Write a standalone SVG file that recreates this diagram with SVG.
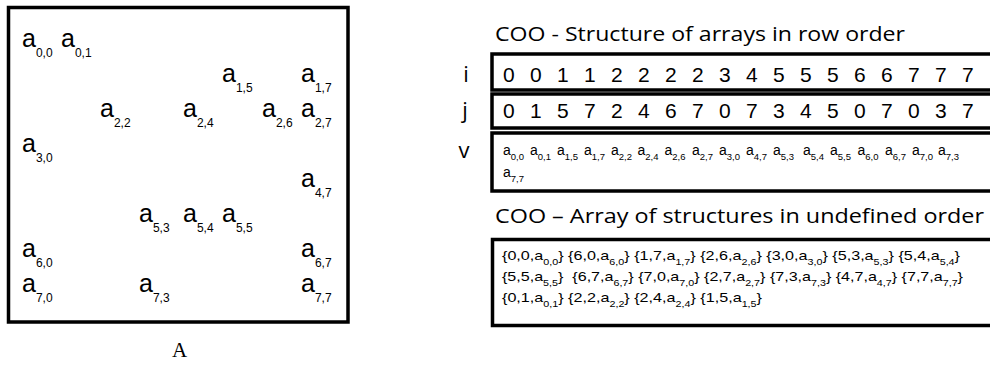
<svg xmlns="http://www.w3.org/2000/svg" width="990" height="365" viewBox="0 0 990 365">
<style>
.box{fill:#fff;stroke:#000;stroke-width:3.5}
.m{font-family:"Liberation Sans",Arial,sans-serif;font-size:25px;fill:#000}
.ms{font-size:12px}
.t{font-family:"Open Sans","DejaVu Sans",sans-serif;font-size:20px;fill:#000}
.lbl{font-family:"Open Sans","DejaVu Sans",sans-serif;font-size:22px;fill:#000}
.d{font-family:"Liberation Sans",Arial,sans-serif;font-size:21px;fill:#000}
.v{font-family:"Liberation Sans",Arial,sans-serif;font-size:14px;fill:#000}
.vs{font-size:9.5px}
.s{font-family:"Liberation Sans",Arial,sans-serif;font-size:13.5px;fill:#000}
.ss{font-size:9px}
.cap{font-family:"Liberation Serif","Times New Roman",serif;font-size:21px;fill:#000}
</style>
<rect width="990" height="365" fill="#fff"/>
<g id="matrix-A">
<rect class="box" x="8.5" y="7.5" width="339.5" height="314.5"/>
<text class="m" x="22" y="47">a<tspan class="ms" dy="10">0,0</tspan></text>
<text class="m" x="61" y="47">a<tspan class="ms" dy="10">0,1</tspan></text>
<text class="m" x="222" y="82">a<tspan class="ms" dy="10">1,5</tspan></text>
<text class="m" x="301" y="82">a<tspan class="ms" dy="10">1,7</tspan></text>
<text class="m" x="100" y="117">a<tspan class="ms" dy="10">2,2</tspan></text>
<text class="m" x="183" y="117">a<tspan class="ms" dy="10">2,4</tspan></text>
<text class="m" x="262" y="117">a<tspan class="ms" dy="10">2,6</tspan></text>
<text class="m" x="301" y="117">a<tspan class="ms" dy="10">2,7</tspan></text>
<text class="m" x="22" y="152">a<tspan class="ms" dy="10">3,0</tspan></text>
<text class="m" x="301" y="187">a<tspan class="ms" dy="10">4,7</tspan></text>
<text class="m" x="139" y="222">a<tspan class="ms" dy="10">5,3</tspan></text>
<text class="m" x="183" y="222">a<tspan class="ms" dy="10">5,4</tspan></text>
<text class="m" x="222" y="222">a<tspan class="ms" dy="10">5,5</tspan></text>
<text class="m" x="22" y="257">a<tspan class="ms" dy="10">6,0</tspan></text>
<text class="m" x="301" y="257">a<tspan class="ms" dy="10">6,7</tspan></text>
<text class="m" x="22" y="292">a<tspan class="ms" dy="10">7,0</tspan></text>
<text class="m" x="139" y="292">a<tspan class="ms" dy="10">7,3</tspan></text>
<text class="m" x="301" y="292">a<tspan class="ms" dy="10">7,7</tspan></text>
<text class="cap" x="179.5" y="357" text-anchor="middle">A</text>
</g>
<g id="soa">
<text class="t" x="495" y="41" textLength="410" lengthAdjust="spacingAndGlyphs">COO - Structure of arrays in row order</text>
<rect class="box" x="492" y="54" width="510" height="36"/>
<rect class="box" x="492" y="94" width="510" height="34"/>
<rect class="box" x="492" y="133" width="510" height="58"/>
<text class="lbl" x="466" y="82" text-anchor="middle">i</text>
<text class="lbl" x="465" y="118" text-anchor="middle">j</text>
<text class="lbl" x="464" y="158" text-anchor="middle">v</text>
<text class="d" y="82" x="503 530 557 584 611 638 665 692 719 746 773 800 827 854 881 908 935 962">001122223455566777</text>
<text class="d" y="118" x="503 530 557 584 611 638 665 692 719 746 773 800 827 854 881 908 935 962">015724670734507037</text>
<text class="v" x="503" y="155">a<tspan class="vs" dy="5">0,0</tspan></text>
<text class="v" x="530" y="155">a<tspan class="vs" dy="5">0,1</tspan></text>
<text class="v" x="557" y="155">a<tspan class="vs" dy="5">1,5</tspan></text>
<text class="v" x="584" y="155">a<tspan class="vs" dy="5">1,7</tspan></text>
<text class="v" x="611" y="155">a<tspan class="vs" dy="5">2,2</tspan></text>
<text class="v" x="637.5" y="155">a<tspan class="vs" dy="5">2,4</tspan></text>
<text class="v" x="664.5" y="155">a<tspan class="vs" dy="5">2,6</tspan></text>
<text class="v" x="692" y="155">a<tspan class="vs" dy="5">2,7</tspan></text>
<text class="v" x="719" y="155">a<tspan class="vs" dy="5">3,0</tspan></text>
<text class="v" x="746" y="155">a<tspan class="vs" dy="5">4,7</tspan></text>
<text class="v" x="773" y="155">a<tspan class="vs" dy="5">5,3</tspan></text>
<text class="v" x="803" y="155">a<tspan class="vs" dy="5">5,4</tspan></text>
<text class="v" x="830" y="155">a<tspan class="vs" dy="5">5,5</tspan></text>
<text class="v" x="857.5" y="155">a<tspan class="vs" dy="5">6,0</tspan></text>
<text class="v" x="885" y="155">a<tspan class="vs" dy="5">6,7</tspan></text>
<text class="v" x="912" y="155">a<tspan class="vs" dy="5">7,0</tspan></text>
<text class="v" x="938" y="155">a<tspan class="vs" dy="5">7,3</tspan></text>
<text class="v" x="503" y="177">a<tspan class="vs" dy="5">7,7</tspan></text>
</g>
<g id="aos">
<text class="t" x="495" y="223" textLength="489" lengthAdjust="spacingAndGlyphs">COO – Array of structures in undefined order</text>
<rect class="box" x="492.5" y="239.5" width="510" height="86"/>
<text class="s" x="502" y="260" textLength="458" lengthAdjust="spacingAndGlyphs">{0,0,a<tspan class="ss" dy="5">0,0</tspan><tspan dy="-5">} {6,0,a</tspan><tspan class="ss" dy="5">6,0</tspan><tspan dy="-5">} {1,7,a</tspan><tspan class="ss" dy="5">1,7</tspan><tspan dy="-5">} {2,6,a</tspan><tspan class="ss" dy="5">2,6</tspan><tspan dy="-5">} {3,0,a</tspan><tspan class="ss" dy="5">3,0</tspan><tspan dy="-5">} {5,3,a</tspan><tspan class="ss" dy="5">5,3</tspan><tspan dy="-5">} {5,4,a</tspan><tspan class="ss" dy="5">5,4</tspan><tspan dy="-5">}</tspan></text>
<text class="s" x="502" y="281" textLength="461" lengthAdjust="spacingAndGlyphs" xml:space="preserve">{5,5,a<tspan class="ss" dy="5">5,5</tspan><tspan dy="-5">}  {6,7,a</tspan><tspan class="ss" dy="5">6,7</tspan><tspan dy="-5">} {7,0,a</tspan><tspan class="ss" dy="5">7,0</tspan><tspan dy="-5">} {2,7,a</tspan><tspan class="ss" dy="5">2,7</tspan><tspan dy="-5">} {7,3,a</tspan><tspan class="ss" dy="5">7,3</tspan><tspan dy="-5">} {4,7,a</tspan><tspan class="ss" dy="5">4,7</tspan><tspan dy="-5">} {7,7,a</tspan><tspan class="ss" dy="5">7,7</tspan><tspan dy="-5">}</tspan></text>
<text class="s" x="502" y="302" textLength="260" lengthAdjust="spacingAndGlyphs">{0,1,a<tspan class="ss" dy="5">0,1</tspan><tspan dy="-5">} {2,2,a</tspan><tspan class="ss" dy="5">2,2</tspan><tspan dy="-5">} {2,4,a</tspan><tspan class="ss" dy="5">2,4</tspan><tspan dy="-5">} {1,5,a</tspan><tspan class="ss" dy="5">1,5</tspan><tspan dy="-5">}</tspan></text>
</g>
</svg>
